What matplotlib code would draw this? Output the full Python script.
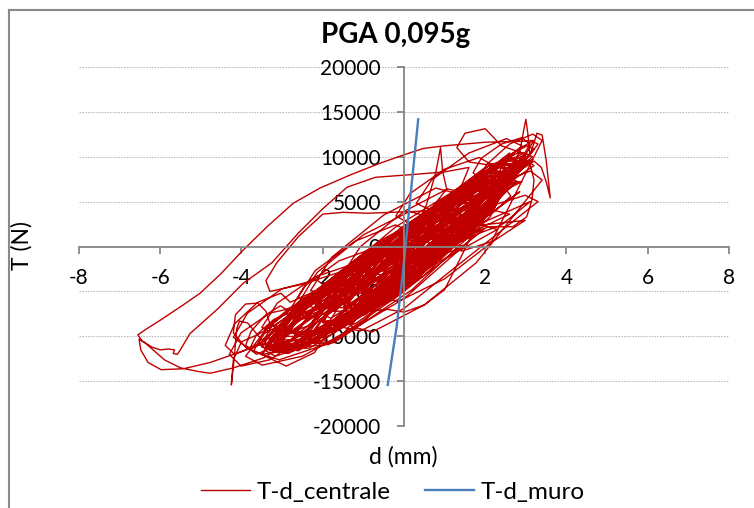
import matplotlib
matplotlib.use("Agg")
import matplotlib.pyplot as plt
from matplotlib.lines import Line2D

plt.rcParams["font.family"] = ["Lato", "DejaVu Sans"]
plt.rcParams["axes.unicode_minus"] = False

# ---- data: d (mm), T (N) ----
x_ticks = [-8, -6, -4, -2, 0, 2, 4, 6, 8]
y_ticks = [-20000, -15000, -10000, -5000, 0, 5000, 10000, 15000, 20000]

centrale_opening = [
    (0, 0),
    (0.8, 1400), (0.57, 1500), (0, 0), (-0.57, -2200), (-0.8, -3800), (-0.57, -3900), (0, -2400), (0.57, -200),
    (1.3, 3000), (0.95, 3100), (0.1, 800), (-0.75, -2600), (-1.1, -5000), (-0.75, -5100), (0.1, -2800), (0.95, 600),
    (1.4, 3600), (0.94, 3600), (-0.2, 400), (-1.34, -4100), (-1.8, -7200), (-1.34, -7200), (-0.2, -4000), (0.94, 500),
    (2.0, 5300), (1.42, 5200), (0, 1100), (-1.42, -4500), (-2.0, -8300), (-1.42, -8200), (0, -4100), (1.42, 1500),
    (2.1, 5400), (1.4, 5300), (-0.3, 800), (-2.0, -5500), (-2.7, -9800), (-2.0, -9700), (-0.3, -5200), (1.4, 1100),
    (-2.0, -6400), (-2.23, -5800), (-2.8, -6800), (-3.37, -8900), (-3.6, -10800), (-3.37, -11400), (-2.8, -10400), (-2.23, -8300),
    (2.4, 7200), (1.76, 6900), (0.2, 2200), (-1.36, -4200), (-2.0, -8400), (-1.36, -8100), (0.2, -3400), (1.76, 3000),
    (3.0, 10000), (2.8, 10400), (2.3, 9200), (1.8, 7000), (1.6, 5200), (1.8, 4800), (2.3, 6000), (2.8, 8200),
    (2.4, 6400), (1.59, 6100), (-0.4, 800), (-2.39, -6400), (-3.2, -11200), (-2.39, -10900), (-0.4, -5600), (1.59, 1600),
    (-2.6, -7800), (-2.77, -7300), (-3.2, -8100), (-3.63, -9800), (-3.8, -11400), (-3.63, -12000), (-3.2, -11100), (-2.77, -9400),
    (2.6, 7900), (1.93, 7900), (0.3, 3100), (-1.33, -3700), (-2.0, -8500), (-1.33, -8500), (0.3, -3700), (1.93, 3100),
    (2.5, 6800), (1.63, 6200), (-0.5, 400), (-2.63, -7100), (-3.5, -12000), (-2.63, -11400), (-0.5, -5600), (1.63, 1900),
    (3.2, 10800), (3.03, 11200), (2.6, 10200), (2.17, 8400), (2.0, 6800), (2.17, 6400), (2.6, 7400), (3.03, 9200),
    (2.6, 8400), (1.85, 8100), (0, 2200), (-1.85, -5800), (-2.6, -11200), (-1.85, -10900), (0, -5000), (1.85, 3000),
    (-1.5, -4800), (-1.79, -4200), (-2.5, -5800), (-3.21, -8500), (-3.5, -10800), (-3.21, -11400), (-2.5, -9800), (-1.79, -7100),
    (1.4, 3200), (0.76, 3100), (-0.8, -1000), (-2.36, -6600), (-3.0, -10400), (-2.36, -10300), (-0.8, -6200), (0.76, -600),
    (2.6, 7600), (2.02, 7700), (0.6, 3600), (-0.82, -2200), (-1.4, -6400), (-0.82, -6500), (0.6, -2400), (2.02, 3400),
    (2.9, 9200), (2.64, 9700), (2.0, 8200), (1.36, 5700), (1.1, 3600), (1.36, 3100), (2.0, 4600), (2.64, 7100),
    (2.8, 8200), (1.93, 8100), (-0.2, 2200), (-2.33, -5900), (-3.2, -11400), (-2.33, -11300), (-0.2, -5400), (1.93, 2700),
    (2.6, 7200),
]

centrale_excursion_left = [
    (3.2, 11800), (2.9, 11700), (2.0, 11600), (1.0, 11200), (0.47, 10900), (0.0, 10200),
    (-0.6, 9250), (-1.3, 8000), (-2.07, 6500), (-2.73, 4800), (-3.37, 2200),
    (-3.96, -400), (-4.5, -3000), (-5.02, -5200), (-5.5, -6700), (-6.0, -8200),
    (-6.35, -9200), (-6.55, -9830), (-6.45, -10500), (-6.2, -11200),
    (-6.0, -11500), (-5.8, -11400), (-5.65, -11500), (-5.68, -11900),
    (-5.58, -12000), (-5.52, -11600), (-5.27, -9700), (-4.6, -7000),
    (-3.96, -4100), (-3.25, -1800), (-2.6, 1500), (-2.0, 4200), (-1.4, 6600),
    (-0.7, 7700), (0.2, 8000), (1.0, 8300), (1.6, 8800),
]

centrale_middle = [
    (1.0, 2200), (0.42, 2000), (-1.0, -1800), (-2.42, -7000), (-3.0, -10600), (-2.42, -10400), (-1.0, -6600), (0.42, -1400),
    (3.0, 10000), (2.25, 9200), (0.4, 3200), (-1.45, -4400), (-2.2, -9200), (-1.45, -8400), (0.4, -2400), (2.25, 5200),
    (3.3, 11400), (3.16, 11700), (2.8, 10800), (2.44, 9200), (2.3, 7800), (2.44, 7500), (2.8, 8400), (3.16, 10000),
    (2.4, 11200), (2.0, 13100), (1.5, 12600), (1.3, 11000), (1.6, 9400), (2.2, 9000), (2.6, 10400),
    (2.2, 5600), (1.39, 5600), (-0.6, 600), (-2.59, -6400), (-3.4, -11200), (-2.59, -11200), (-0.6, -6200), (1.39, 800),
    (-1.3, -6400), (-1.56, -5800), (-2.2, -7000), (-2.84, -9200), (-3.1, -11200), (-2.84, -11800), (-2.2, -10600), (-1.56, -8400),
    (2.6, 7800), (2.08, 7700), (0.8, 3800), (-0.48, -1600), (-1.0, -5400), (-0.48, -5300), (0.8, -1400), (2.08, 4000),
    (0.4, 400), (-0.12, 500), (-1.4, -2800), (-2.68, -7500), (-3.2, -10800), (-2.68, -10900), (-1.4, -7600), (-0.12, -2900),
]

centrale_peak_passage = [
    (1.6, 3400), (2.5, 8000), (2.85, 10500), (2.95, 13000), (3.0, 14150), (3.05, 12500),
    (3.1, 10200), (3.18, 11200), (3.27, 12600), (3.4, 12400), (3.5, 9600), (3.6, 5400),
    (3.5, 7200), (3.38, 8800), (3.2, 9500), (2.9, 8600), (2.2, 5200), (1.2, 900),
    (0.2, -3000), (-0.8, -6400), (-1.6, -8800),
]

centrale_middle_2 = [
    (3.1, 9600), (2.23, 8900), (0.1, 2400), (-2.03, -5900), (-2.9, -11200), (-2.03, -10500), (0.1, -4000), (2.23, 4300),
    (2.6, 8200), (2.37, 8900), (1.8, 7600), (1.23, 5200), (1.0, 3000), (1.23, 2300), (1.8, 3600), (2.37, 6000),
    (2.9, 7200), (1.97, 7000), (-0.3, 1200), (-2.57, -6700), (-3.5, -12000), (-3.9, -11200), (-4.2, -9600),
    (-4.15, -7600), (-3.9, -6400), (-3.6, -6300), (-3.4, -7200), (-3.3, -8600), (-3.0, -9400), (-2.2, -9600),
    (-0.3, -6000), (1.97, 1900),
    (-2.9, -7000), (-3.04, -6600), (-3.4, -7600), (-3.76, -9400), (-3.9, -11000), (-3.76, -11400), (-3.4, -10400), (-3.04, -8600),
    (2.6, 8200), (2.14, 8500), (1.0, 5000), (-0.14, -100), (-0.6, -3800), (-0.14, -4100), (1.0, -600), (2.14, 4500),
    (0.0, -1600), (-0.46, -1100), (-1.6, -3600), (-2.74, -7600), (-3.2, -10800), (-2.74, -11300), (-1.6, -8800), (-0.46, -4800),
]

centrale_scatter_a = [
    (-1.8, -4900), (-2.15, -3700), (-3.0, -4700), (-3.85, -7400), (-4.2, -10100), (-3.85, -11300), (-3.0, -10300), (-2.15, -7600),
    (3.2, 9000), (2.85, 10100), (2.0, 8800), (1.15, 5900), (0.8, 3000), (1.15, 1900), (2.0, 3200), (2.85, 6100),
    (-1.1, -7400), (-1.51, -6400), (-2.5, -7400), (-3.49, -9800), (-3.9, -12200), (-3.49, -13200), (-2.5, -12200), (-1.51, -9800),
    (1.3, 5900), (0.78, 6500), (-0.5, 3500), (-1.78, -1200), (-2.3, -4900), (-1.78, -5500), (-0.5, -2500), (0.78, 2200),
    (2.9, 11200), (2.52, 12000), (1.6, 10400), (0.68, 7400), (0.3, 4800), (0.68, 4000), (1.6, 5600), (2.52, 8600),
    (-2.3, -8000), (-2.59, -6700), (-3.3, -7400), (-4.01, -9600), (-4.3, -12000), (-4.01, -13300), (-3.3, -12600), (-2.59, -10400),
    (2.3, 1900), (1.78, 2500), (0.5, -500), (-0.78, -5200), (-1.3, -8900), (-0.78, -9500), (0.5, -6500), (1.78, -1800),
    (3.4, 7400), (3.11, 8400), (2.4, 7200), (1.69, 4600), (1.4, 2200), (1.69, 1200), (2.4, 2400), (3.11, 5000),
    (-0.9, -3000), (-1.28, -2000), (-2.2, -3400), (-3.12, -6300), (-3.5, -9000), (-3.12, -10000), (-2.2, -8600), (-1.28, -5700),
    (0.6, 3300), (0.14, 3900), (-1.0, 1300), (-2.14, -2900), (-2.6, -6300), (-2.14, -6900), (-1.0, -4300), (0.14, -100),
]

centrale_spike_passage = [
    (0.2, 1200), (0.55, 4600), (0.78, 8200), (0.9, 11000), (0.95, 8400), (1.05, 6400),
    (0.5, 3200), (-0.4, -300), (-1.1, -3400), (-1.5, -5200),
]

centrale_middle_3 = [
    (2.9, 9200), (2.2, 9000), (0.5, 3600), (-1.2, -3800), (-1.9, -8800), (-1.2, -8600), (0.5, -3200), (2.2, 4200),
    (3.1, 11400), (2.9, 12100), (2.4, 11400), (1.9, 9800), (1.7, 8200), (1.9, 7500), (2.4, 8200), (2.9, 9800),
    (1.6, 4200), (0.88, 4100), (-0.9, -400), (-2.68, -6700), (-3.4, -11000), (-2.68, -10900), (-0.9, -6400), (0.88, -100),
    (-1.8, -8000), (-2.03, -7400), (-2.6, -8200), (-3.17, -9900), (-3.4, -11600), (-3.17, -12200), (-2.6, -11400), (-2.03, -9700),
    (2.9, 8800), (2.12, 8700), (0.2, 2800), (-1.72, -5300), (-2.5, -10800), (-1.72, -10700), (0.2, -4800), (2.12, 3300),
]

centrale_excursion_low = [
    (2.7, 8400), (2.0, 6800), (0.9, 3600), (-0.3, 0), (-1.4, -3800), (-2.2, -6800),
    (-2.9, -9300), (-3.95, -11600), (-4.77, -12900), (-5.43, -13600),
    (-5.98, -13700), (-6.3, -12900), (-6.48, -11500), (-6.52, -10300),
    (-6.38, -10700), (-6.15, -11600), (-5.9, -12600), (-5.5, -13500),
    (-5.07, -13900), (-4.77, -14100), (-4.2, -13500), (-3.46, -12400),
    (-2.8, -10500),
]

centrale_middle_4 = [
    (-0.4, -2800), (-0.83, -2500), (-1.9, -4800), (-2.97, -8400), (-3.4, -11200), (-2.97, -11500), (-1.9, -9200), (-0.83, -5600),
    (2.8, 9000), (2.39, 9100), (1.4, 6000), (0.41, 1500), (0.0, -1800), (0.41, -1900), (1.4, 1200), (2.39, 5700),
    (2.8, 7200), (2.63, 7600), (2.2, 6600), (1.77, 4800), (1.6, 3200), (1.77, 2800), (2.2, 3800), (2.63, 5600),
    (2.5, 6400), (1.66, 6100), (-0.4, 600), (-2.46, -6700), (-3.3, -11600), (-2.46, -11300), (-0.4, -5800), (1.66, 1500),
]

centrale_scatter_b = [
    (2.6, 6800), (2.19, 7600), (1.2, 5600), (0.21, 2200), (-0.2, -800), (0.21, -1600), (1.2, 400), (2.19, 3900),
    (-2.8, -6200), (-3.03, -5200), (-3.6, -6200), (-4.17, -8600), (-4.4, -11000), (-4.17, -12000), (-3.6, -11000), (-3.03, -8600),
    (2.6, 3600), (2.14, 4100), (1.0, 1600), (-0.14, -2400), (-0.6, -5600), (-0.14, -6100), (1.0, -3600), (2.14, 400),
    (3.4, 11800), (3.17, 12500), (2.6, 11400), (2.03, 9100), (1.8, 7000), (2.03, 6300), (2.6, 7400), (3.17, 9700),
    (-0.5, -5600), (-0.93, -5000), (-2.0, -6600), (-3.07, -9500), (-3.5, -12000), (-3.07, -12600), (-2.0, -11000), (-0.93, -8100),
    (1.5, 6000), (1.07, 6400), (0, 3900), (-1.07, 0), (-1.5, -3000), (-1.07, -3400), (0, -900), (1.07, 3000),
    (2.2, 9000), (1.85, 9900), (1.0, 8600), (0.15, 5900), (-0.2, 3400), (0.15, 2500), (1.0, 3800), (1.85, 6500),
    (-0.4, -1000), (-0.75, -200), (-1.6, -1600), (-2.45, -4400), (-2.8, -7000), (-2.45, -7800), (-1.6, -6400), (-0.75, -3600),
    (1.5, 0), (1.07, 400), (0, -2100), (-1.07, -6000), (-1.5, -9000), (-1.07, -9400), (0, -6900), (1.07, -3000),
    (3.3, 5000), (2.98, 5700), (2.2, 4600), (1.42, 2300), (1.1, 200), (1.42, -500), (2.2, 600), (2.98, 2900),
    (0.2, 1600), (-0.21, 2400), (-1.2, 600), (-2.19, -2700), (-2.6, -5600), (-2.19, -6400), (-1.2, -4600), (-0.21, -1300),
]

centrale_drop_passage = [
    (2.4, 7600), (1.4, 5600), (0.2, 1800), (-1.2, -2600), (-2.6, -7200), (-3.6, -9800),
    (-4.0, -10600), (-4.2, -12600), (-4.25, -15400), (-4.17, -12000), (-4.12, -9200),
    (-4.05, -8300), (-3.85, -8500), (-3.5, -10400),
]

centrale_middle_5 = [
    (2.8, 9600), (2.16, 9200), (0.6, 3800), (-0.96, -3300), (-1.6, -8000), (-0.96, -7600), (0.6, -2200), (2.16, 4900),
    (-0.8, -4200), (-1.09, -3500), (-1.8, -4800), (-2.51, -7200), (-2.8, -9400), (-2.51, -10100), (-1.8, -8800), (-1.09, -6400),
    (1.0, 1800), (0.36, 1900), (-1.2, -1800), (-2.76, -7200), (-3.4, -11000),
]

centrale_flat_passage = [
    (-2.6, -11600), (-1.8, -9400), (-1.0, -7200), (-0.4, -7000), (0.0, -7300), (0.5, -6500),
    (1.0, -4800), (1.4, -1200), (1.7, 1600), (2.1, 2200), (2.68, 2200), (3.02, 3300),
    (3.15, 5200), (3.2, 7400), (3.1, 9200), (2.9, 9800),
]

centrale_middle_6 = [
    (2.5, 6600), (1.78, 7000), (0, 2200), (-1.78, -4900), (-2.5, -10200), (-1.78, -10600), (0, -5800), (1.78, 1300),
    (-0.9, -4000), (-1.28, -3500), (-2.2, -5400), (-3.12, -8600), (-3.5, -11200), (-3.12, -11700), (-2.2, -9800), (-1.28, -6600),
    (2.9, 9800), (2.52, 9900), (1.6, 6800), (0.68, 2500), (0.3, -600), (0.68, -700), (1.6, 2400), (2.52, 6700),
    (1.9, 5000), (1.15, 4700), (-0.7, -200), (-2.55, -6700), (-3.3, -11000), (-2.55, -10700), (-0.7, -5800), (1.15, 700),
    (3.0, 9400), (2.25, 8800), (0.4, 3000), (-1.45, -4500), (-2.2, -9400), (-1.45, -8800), (0.4, -3000), (2.25, 4500),
]

centrale_left_passage = [
    (1.2, 4200), (0.3, 3900), (-0.9, 3700), (-1.5, 3800), (-2.0, 3600), (-2.6, 1100),
    (-3.13, -1800), (-3.4, -3800), (-3.3, -5000), (-2.5, -4200), (-1.0, -2000), (0.8, 2400),
]

centrale_closing = [
    (0.4, -200), (-0.15, 300), (-1.5, -2800), (-2.85, -7600), (-3.4, -11400), (-2.85, -11900), (-1.5, -8800), (-0.15, -4000),
    (2.9, 9400), (2.32, 9000), (0.9, 4400), (-0.52, -1800), (-1.1, -5800), (-0.52, -5400), (0.9, -800), (2.32, 5400),
    (2.2, 6600), (1.53, 6700), (-0.1, 2000), (-1.73, -4700), (-2.4, -9400), (-1.73, -9500), (-0.1, -4800), (1.53, 1900),
    (-1.3, -5200), (-1.65, -4400), (-2.5, -6000), (-3.35, -9000), (-3.7, -11600), (-2.9, -13300), (-2.2, -11800), (-1.65, -7800),
    (3.1, 10200), (2.75, 10600), (1.9, 8000), (1.05, 4000), (0.7, 1000), (1.05, 600), (1.9, 3200), (2.75, 7200),
    (1.8, 4800), (1.1, 4800), (-0.6, 400), (-2.3, -5700), (-3.0, -10000), (-2.3, -10000), (-0.6, -5600), (1.1, 500),
    (2.4, 7400), (1.85, 7200), (0.5, 3000), (-0.85, -2700), (-1.4, -6600), (-0.85, -6400), (0.5, -2200), (1.85, 3500),
    (0.7, 800), (0.18, 900), (-1.1, -2200), (-2.38, -6500), (-2.9, -9600), (-2.38, -9700), (-1.1, -6600), (0.18, -2300),
    (1.9, 5200), (1.41, 5200), (0.2, 1600), (-1.01, -3400), (-1.5, -6800), (-1.01, -6800), (0.2, -3200), (1.41, 1800),
    (1.1, 2800), (0.67, 2800), (-0.4, -600), (-1.47, -4000), (-1.9, -6800), (-1.47, -6800), (-0.4, -3400), (0.67, 0),
    (1.6, 4000), (1.22, 4000), (0.3, 1400), (-0.62, -2200), (-1.0, -4800), (-0.62, -4800), (0.3, -2200), (1.22, 1400),
    (0.9, 2000), (0.58, 2200), (-0.2, -200), (-0.98, -2700), (-1.3, -4800), (-0.98, -5000), (-0.2, -3000), (0.58, -100),
    (1.0, 2200), (0.74, 2300), (0.1, 600), (-0.54, -1900), (-0.8, -3800), (-0.54, -3900), (0.1, -2200), (0.74, 300),
    (0.5, 600), (0.33, 800), (-0.1, -500), (-0.53, -1800), (-0.7, -3000), (-0.53, -3200), (-0.1, -1900), (0.33, -600),
    (0.4, 600), (0.28, 800), (0, -100), (-0.28, -1000), (-0.4, -1800), (-0.28, -2000), (0, -1100), (0.28, -300),
    (0, 0),
]

muro_d = [-0.40, -0.18, -0.02, 0.15, 0.35]
muro_T = [-15400, -8900, -2600, 5200, 14150]

centrale = (centrale_opening + centrale_excursion_left + centrale_middle
            + centrale_peak_passage + centrale_middle_2 + centrale_scatter_a
            + centrale_spike_passage + centrale_middle_3 + centrale_excursion_low
            + centrale_middle_4 + centrale_scatter_b + centrale_drop_passage
            + centrale_middle_5 + centrale_flat_passage + centrale_middle_6
            + centrale_left_passage + centrale_closing)
centrale_d = [p[0] for p in centrale]
centrale_T = [p[1] for p in centrale]

# ---- figure ----
W, H = 754, 508
fig = plt.figure(figsize=(W / 100, H / 100), dpi=100)
ax = fig.add_axes([79 / W, 1 - 426.3 / H, 650 / W, 359.6 / H])

axis_gray = "#868686"
for y in y_ticks:
    if y != 0:
        ax.axhline(y, color="#bdbdbd", lw=0.8, ls=(0, (1.5, 1)), zorder=0.5)

ax.plot(centrale_d, centrale_T, color="#C00000", lw=1.0,
        solid_joinstyle="round", label="T-d_centrale", zorder=2)
ax.plot(muro_d, muro_T, color="#4A7EBB", lw=1.7, label="T-d_muro", zorder=2.2)

ax.set_xlim(-8, 8)
ax.set_ylim(-20000, 20000)
ax.set_xticks(x_ticks)
ax.set_yticks(y_ticks)
ax.set_xticklabels([str(v) for v in x_ticks])
ax.set_yticklabels([str(v) for v in y_ticks])

ax.spines["left"].set_position(("data", 0))
ax.spines["bottom"].set_position(("data", 0))
for s in ("top", "right"):
    ax.spines[s].set_visible(False)
for s in ("left", "bottom"):
    ax.spines[s].set_color(axis_gray)
    ax.spines[s].set_linewidth(1.3)

ax.tick_params(axis="both", direction="out", length=5.2, width=1.3,
               color=axis_gray, labelsize=15, labelcolor="black")
ax.tick_params(axis="x", pad=10.5)
ax.tick_params(axis="y", pad=11.5)

fig.text(396 / W, 1 - 35 / H, "PGA 0,095g", ha="center", va="center",
         fontsize=20, fontweight="bold")
fig.text(22 / W, 1 - 245 / H, "T (N)", rotation=90, ha="center",
         va="center", fontsize=16.5)
fig.text(403 / W, 1 - 457 / H, "d (mm)", ha="center", va="center",
         fontsize=16.5)

fig.legend(loc="center", bbox_to_anchor=(393 / W, 1 - 492 / H), ncol=2,
           frameon=False, fontsize=17.5, handlelength=2.0, handletextpad=0.3,
           columnspacing=1.4)

# chart-area border (top and left edges)
border = "#8a8a8a"
fig.add_artist(Line2D([9 / W, 9 / W], [0, 1 - 10 / H], transform=fig.transFigure,
                      color=border, lw=1.5))
fig.add_artist(Line2D([9 / W, 1], [1 - 10 / H, 1 - 10 / H],
                      transform=fig.transFigure, color=border, lw=1.5))

fig.savefig("out.png", dpi=100)
